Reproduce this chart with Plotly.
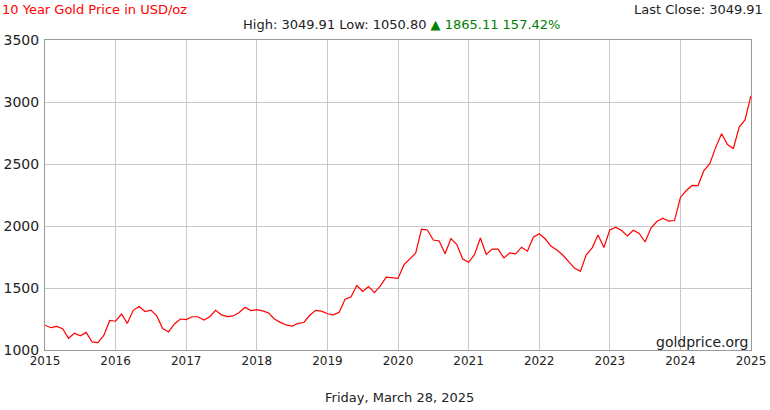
import plotly.graph_objects as go

years = list(range(2015, 2026))
# monthly closes, Mar 2015 .. Mar 2025
prices = [
 1200,1180,1190,1172,1095,1135,1115,1142,1065,1060,
 1118,1238,1232,1290,1215,1320,1350,1310,1322,1275,1173,1146,
 1210,1250,1245,1268,1268,1242,1268,1320,1283,1270,1275,1303,
 1345,1318,1325,1315,1298,1250,1223,1202,1192,1215,1222,1280,
 1320,1313,1292,1283,1305,1409,1427,1520,1472,1511,1463,1517,
 1587,1585,1577,1686,1730,1781,1975,1968,1887,1879,1776,1898,
 1850,1734,1707,1769,1903,1770,1814,1814,1743,1783,1775,1829,
 1797,1909,1937,1897,1838,1807,1766,1711,1661,1634,1768,1824,
 1928,1827,1969,1990,1963,1919,1965,1940,1871,1983,2036,2063,
 2040,2044,2230,2286,2327,2326,2447,2503,2634,2744,2657,2625,
 2798,2858,3049.91]
start = 2015 + 2/12 + 27/365
xs = [start + i/12 for i in range(len(prices))]
xs[-1] = 2025 + 87/365
offset = start - 2015
end = 2025 + offset

fig = go.Figure(go.Scatter(x=xs, y=prices, mode="lines", line=dict(color="#ff0000", width=1.2), hoverinfo="skip"))
fig.update_layout(
    width=770, height=410, margin=dict(l=45, r=19, t=40, b=60),
    plot_bgcolor="white", paper_bgcolor="white", showlegend=False,
    font=dict(family="DejaVu Sans", color="#222", size=13),
    xaxis=dict(range=[start, end], tickvals=[y + offset for y in years], ticktext=[str(y) for y in years],
               automargin=False, showgrid=True, gridcolor="#c8c8c8", linecolor="#999", mirror=True, ticks="",
               tickfont=dict(size=12)),
    yaxis=dict(range=[1000, 3500], dtick=500, automargin=False, showgrid=True, gridcolor="#c8c8c8",
               linecolor="#999", mirror=True, ticks="", tickfont=dict(size=14), ticklabelstandoff=2),
    annotations=[
        dict(text="10 Year Gold Price in USD/oz", x=0, y=1, xref="paper", yref="paper", xanchor="left", yanchor="top",
             showarrow=False, font=dict(color="#ff0000", size=13), xshift=-45, yshift=40),
        dict(text="Last Close: 3049.91", x=1, y=1, xref="paper", yref="paper", xanchor="right", yanchor="top",
             showarrow=False, font=dict(size=13), xshift=14, yshift=40),
        dict(text="High: 3049.91 Low: 1050.80 <span style='color:#008000'>▲ 1865.11 157.42%</span>",
             x=0.5, y=1, xref="paper", yref="paper", xanchor="center", yanchor="bottom",
             showarrow=False, font=dict(size=13), xshift=3, yshift=6),
        dict(text="goldprice.org", x=1, y=0, xref="paper", yref="paper", xanchor="right", yanchor="bottom",
             showarrow=False, font=dict(size=14), xshift=-1, yshift=-2),
        dict(text="Friday, March 28, 2025", x=0.5, y=0, xref="paper", yref="paper", xanchor="center", yanchor="top",
             showarrow=False, font=dict(size=13), xshift=1, yshift=-38),
    ],
)
fig.write_html("out.html", config={"displayModeBar": False}, post_script="document.body.style.margin='0';")
